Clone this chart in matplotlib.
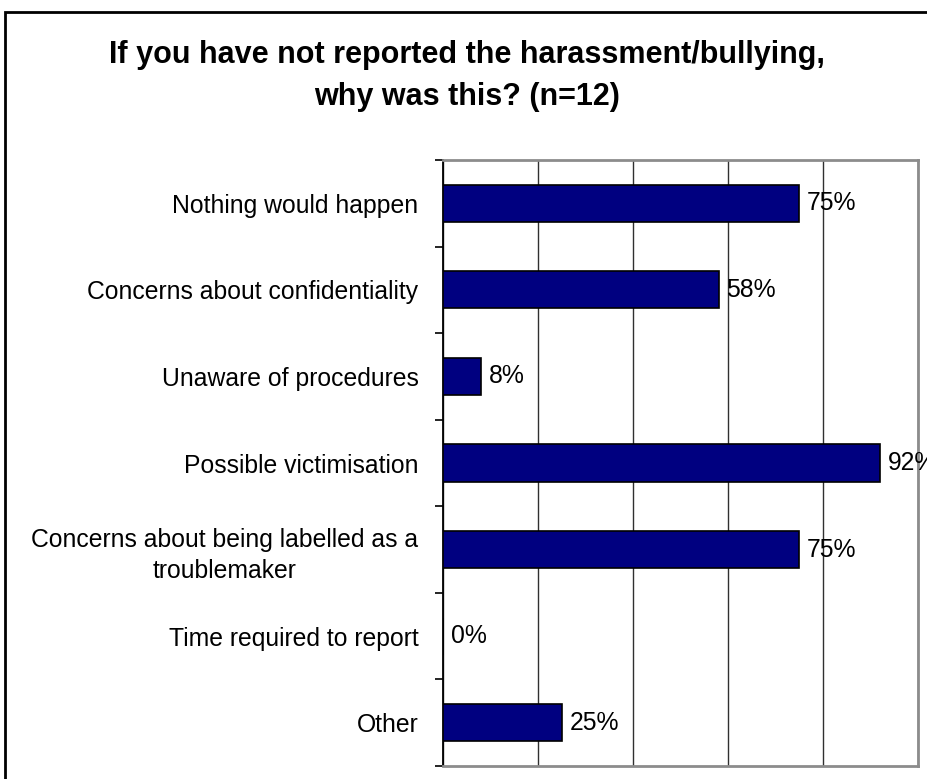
import matplotlib
matplotlib.use("Agg")
import matplotlib.pyplot as plt
from matplotlib.patches import Rectangle
import numpy as np

plt.rcParams['font.family'] = ['Liberation Sans', 'DejaVu Sans']

categories = [
    "Nothing would happen",
    "Concerns about confidentiality",
    "Unaware of procedures",
    "Possible victimisation",
    "Concerns about being labelled as a\ntroublemaker",
    "Time required to report",
    "Other",
]
values = [75, 58, 8, 92, 75, 0, 25]
value_labels = ["75%", "58%", "8%", "92%", "75%", "0%", "25%"]
x_ticks = [0, 20, 40, 60, 80, 100]
title = "If you have not reported the harassment/bullying,\nwhy was this? (n=12)"

W, H = 928, 779
fig = plt.figure(figsize=(W / 100, H / 100), dpi=100)
ax = fig.add_axes([443.5 / W, 1 - 766 / H, (918 - 443.5) / W, (766 - 160) / H])

y = np.arange(len(categories))
ax.barh(y, values, height=0.43, color="#000080", edgecolor="black", linewidth=1.2, zorder=3)

for yi, v, lab in zip(y, values, value_labels):
    ax.annotate(lab, (v, yi), xytext=(5.5, 0), textcoords="offset points",
                ha="left", va="center", fontsize=17.8, color="black",
                annotation_clip=False, zorder=4)

ax.set_xlim(0, 100)
ax.set_ylim(len(categories) - 0.5, -0.5)
ax.set_xticks(x_ticks)
ax.xaxis.grid(True, color="#303030", linewidth=1.0, zorder=1)
ax.tick_params(axis="x", length=0, labelbottom=False)

ax.set_yticks(y)
ax.set_yticklabels(categories, fontsize=17.8)
for t in ax.get_yticklabels():
    t.set_multialignment("center")
    t.set_linespacing(1.35)
ax.set_yticks(np.arange(len(categories) + 1) - 0.5, minor=True)
ax.tick_params(axis="y", which="major", length=0, pad=18)
ax.tick_params(axis="y", which="minor", length=6, width=1.2, color="black")

for side in ["top", "right", "bottom"]:
    ax.spines[side].set_color("#8c8c8c")
    ax.spines[side].set_linewidth(2)
ax.spines["left"].set_color("black")
ax.spines["left"].set_linewidth(1.3)

fig.text(0.503, 1 - 76 / H, title, ha="center", va="center", fontsize=22,
         fontweight="bold", linespacing=1.55)

# chart-area frame, open towards the right and bottom edges
fig.patches.append(Rectangle((5 / W, -0.1), 1.2, 1.1 - 12 / H, transform=fig.transFigure,
                             fill=False, edgecolor="black", linewidth=2))

fig.savefig("out.png", dpi=100)
